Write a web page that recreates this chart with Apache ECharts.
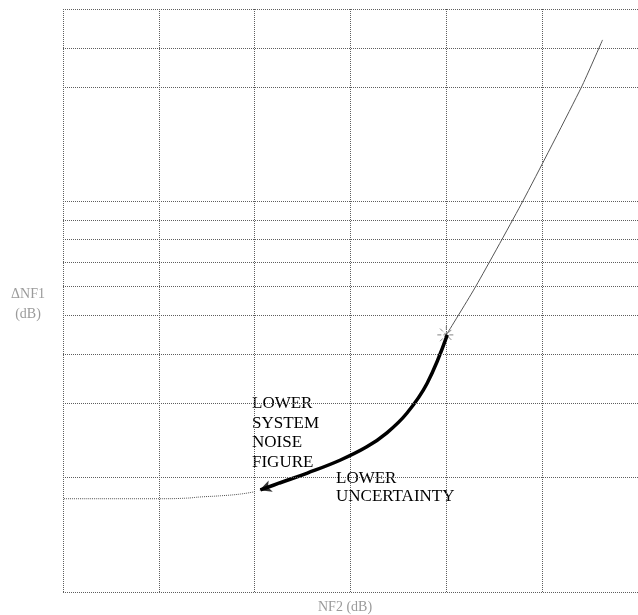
<!DOCTYPE html>
<html><head><meta charset="utf-8">
<script src="https://cdn.jsdelivr.net/npm/echarts@6/dist/echarts.min.js"></script>
<style>html,body{margin:0;padding:0;background:#fff}#c{width:638px;height:615px}</style>
</head><body><div id="c"></div>
<script>
// x in NF2 grid units (0..6), y in relative units (0..100)
const xGridLines = [0, 1, 2, 3, 4, 5, 6];
const yGridLines = [0, 19.6, 32.4, 40.8, 47.5, 52.5, 56.6, 60.5, 63.8, 67.1, 86.6, 93.3, 100];
const upperThin = [[4.0, 44.1], [4.31, 52.5], [4.80, 67.1], [5.41, 86.6], [5.63, 94.7]];
const heavyCurve = [[4.01, 44.1], [3.80, 35.8], [3.59, 30.7], [3.38, 27.3], [3.17, 24.9], [2.89, 22.6], [2.55, 20.4], [2.26, 18.7], [2.06, 17.5]];
const lowerTail = [[2.0, 17.2], [1.85, 16.8], [1.64, 16.5], [1.43, 16.3], [1.29, 16.1], [1.01, 16.0], [0, 16.0]];
const operatingPoint = [[4.0, 44.1]];
const arrowHead = [[2.05, 17.45]];
const yAxisName = ['ΔNF1', '(dB)'];
const xAxisName = 'NF2 (dB)';
const note1 = ['LOWER', 'SYSTEM', 'NOISE', 'FIGURE'];
const note2 = ['LOWER', 'UNCERTAINTY'];

const gridColor = '#5e5e5e';
const chart = echarts.init(document.getElementById('c'));
chart.setOption({
  animation: false,
  grid: {left: 63, right: 0, top: 9, bottom: 23},
  xAxis: {type: 'value', min: xGridLines[0], max: xGridLines[xGridLines.length - 1], interval: 1,
    axisLine: {show: false}, axisTick: {show: false}, axisLabel: {show: false},
    splitLine: {show: true, lineStyle: {color: gridColor, type: 'dotted', width: 1}}},
  yAxis: {type: 'value', min: 0, max: 100,
    axisLine: {show: false}, axisTick: {show: false}, axisLabel: {show: false}, splitLine: {show: false}},
  graphic: [
    {type: 'text', x: 28, y: 284, style: {text: yAxisName.join('\n'), font: '14px "Liberation Serif"', fill: '#9a9a9a', lineHeight: 20, align: 'center', letterSpacing: 2}},
    {type: 'text', left: 318, top: 600, style: {text: xAxisName, font: '14px "Liberation Serif"', fill: '#9a9a9a', letterSpacing: 1}},
    {type: 'text', left: 252, top: 394, style: {text: note1.join('\n'), font: '17px "Liberation Serif"', fill: '#000', lineHeight: 19.5}},
    {type: 'text', left: 336, top: 469, style: {text: note2.join('\n'), font: '17px "Liberation Serif"', fill: '#000', lineHeight: 18.5}}
  ],
  series: [
    {type: 'line', data: [], silent: true,
      markLine: {silent: true, symbol: 'none', label: {show: false},
        lineStyle: {color: gridColor, type: 'dotted', width: 1},
        data: yGridLines.map(v => ({yAxis: v}))}},
    {type: 'line', data: upperThin, smooth: 0.2, symbol: 'none', lineStyle: {color: '#555', width: 1}},
    {type: 'line', data: heavyCurve, smooth: 0.4, symbol: 'none', lineStyle: {color: '#000', width: 3.5}},
    {type: 'line', data: lowerTail, smooth: true, symbol: 'none', lineStyle: {color: '#555', width: 1, type: 'dotted'}},
    {type: 'scatter', data: operatingPoint, symbol: 'path://M0,-10 L0,10 M-10,0 L10,0 M-7,-7 L7,7 M-7,7 L7,-7', symbolSize: 18,
      itemStyle: {color: 'rgba(0,0,0,0)', borderColor: '#666', borderWidth: 1, borderType: 'dashed'}},
    {type: 'scatter', data: arrowHead, symbol: 'arrow', symbolSize: [9, 12], symbolRotate: 110, itemStyle: {color: '#000'}}
  ]
});
</script></body></html>
